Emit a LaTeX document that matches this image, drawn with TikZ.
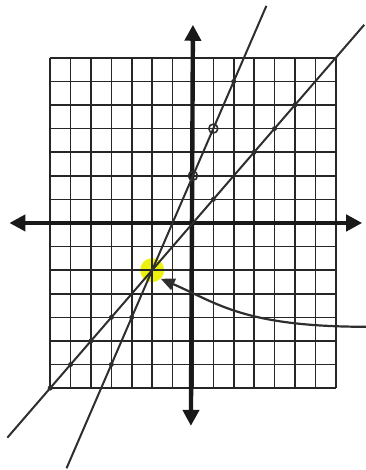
\documentclass[tikz,border=0pt]{standalone}
\usepackage{tikz}
\usetikzlibrary{
    arrows.meta,
    positioning
}
\definecolor{pencil}{rgb}{0.18, 0.18, 0.18}
\definecolor{marker}{rgb}{0.93, 0.95, 0.05}
\tikzstyle{gridline} = [
    line width=1.6bp,
    draw=black!85
]
\tikzstyle{axis} = [
    {Triangle[length=16bp,width=16bp]}-{Triangle[length=16bp,width=16bp]},
    line width=4.4bp,
    draw=black!90
]
\tikzstyle{graphline} = [
    line width=2bp,
    draw=pencil
]
\tikzstyle{pt} = [
    circle,
    fill=pencil,
    inner sep=0pt,
    minimum size=5bp
]
\tikzstyle{ring} = [
    circle,
    draw=pencil,
    line width=1.6bp,
    inner sep=0pt,
    minimum size=9bp
]
\tikzstyle{highlight} = [
    circle,
    fill=marker,
    inner sep=0pt,
    minimum size=24bp
]
\tikzstyle{pointer} = [
    -{Triangle[length=14bp,width=12bp]},
    line width=2.2bp,
    draw=pencil
]

\begin{document}
\begin{tikzpicture}[x=20.4bp, y=23.6bp]
    \useasboundingbox (-9.46,-10.47) rectangle (8.48,9.45);

    % Highlighted solution
    \node[highlight] (hl) at (-2,-2) {};

    % Grid
    \foreach \i in {-7,...,7} {
        \coordinate (gb\i) at (\i,-7);
        \coordinate (gt\i) at (\i,7);
        \coordinate (gl\i) at (-7,\i);
        \coordinate (gr\i) at (7,\i);
        \draw[gridline] (gb\i) -- (gt\i);
        \draw[gridline] (gl\i) -- (gr\i);
    }

    % Axes
    \coordinate (xl) at (-9,0);
    \coordinate (xr) at (8.3,0);
    \coordinate (yb) at (-0.1,-8.6);
    \coordinate (yt) at (0,8.4);
    \draw[axis] (xl) -- (xr);
    \draw[axis] (yb) -- (yt);

    % Lines y = 2x + 2 and y = x
    \coordinate (a-lo) at (-6.2,-10.4);
    \coordinate (a-hi) at (3.6,9.2);
    \coordinate (b-lo) at (-9.1,-9.1);
    \coordinate (b-hi) at (8.4,8.4);
    \draw[graphline] (a-lo) -- (a-hi);
    \draw[graphline] (b-lo) -- (b-hi);

    % Plotted points
    \foreach \x in {-4,-3,2} {
        \node[pt] (pa\x) at (\x,{2*\x+2}) {};
    }
    \node[ring] (pa0) at (0,2) {};
    \node[ring] (pa1) at (1,4) {};
    \foreach \x in {-7,-6,-5,-4,1,3,4,5} {
        \node[pt] (pb\x) at (\x,\x) {};
    }

    % Arrow to the intersection
    \coordinate (note) at (8.5,-4.4);
    \draw[pointer] (note) .. controls (2.5,-4.4) and (1.2,-3.4) .. (hl.south east);
\end{tikzpicture}
\end{document}
